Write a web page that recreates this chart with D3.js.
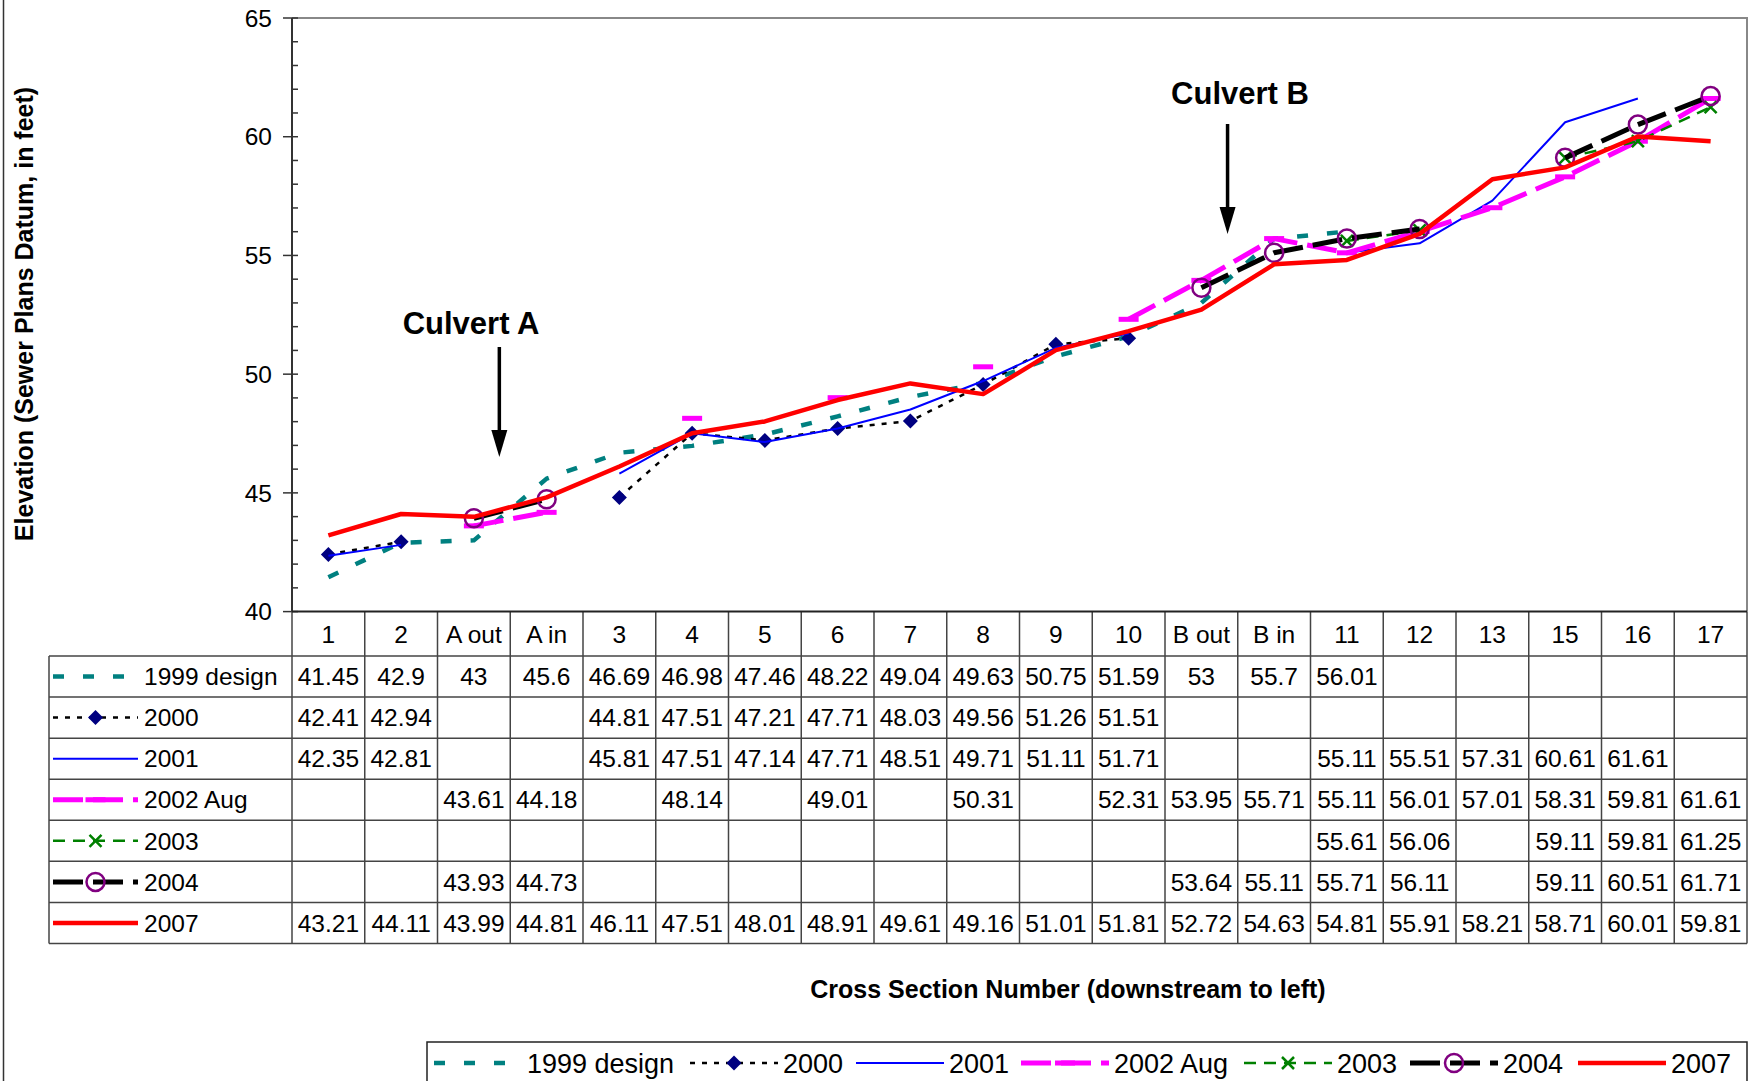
<!DOCTYPE html>
<html><head><meta charset="utf-8">
<script src="https://cdn.jsdelivr.net/npm/d3@7"></script>
<style>html,body{margin:0;padding:0;background:#fff;} svg{display:block;font-family:"Liberation Sans",Arial,sans-serif;}</style>
</head><body><svg id="c" width="1750" height="1081"></svg>
<script>
// ---------- DATA ----------
const categories = ["1","2","A out","A in","3","4","5","6","7","8","9","10","B out","B in","11","12","13","15","16","17"];
const seriesNames = ["1999 design","2000","2001","2002 Aug","2003","2004","2007"];
const design1999 = [41.45,42.9,43,45.6,46.69,46.98,47.46,48.22,49.04,49.63,50.75,51.59,53,55.7,56.01,null,null,null,null,null];
const s2000 = [42.41,42.94,null,null,44.81,47.51,47.21,47.71,48.03,49.56,51.26,51.51,null,null,null,null,null,null,null,null];
const s2001 = [42.35,42.81,null,null,45.81,47.51,47.14,47.71,48.51,49.71,51.11,51.71,null,null,55.11,55.51,57.31,60.61,61.61,null];
const s2002Aug = [null,null,43.61,44.18,null,48.14,null,49.01,null,50.31,null,52.31,53.95,55.71,55.11,56.01,57.01,58.31,59.81,61.61];
const s2003 = [null,null,null,null,null,null,null,null,null,null,null,null,null,null,55.61,56.06,null,59.11,59.81,61.25];
const s2004 = [null,null,43.93,44.73,null,null,null,null,null,null,null,null,53.64,55.11,55.71,56.11,null,59.11,60.51,61.71];
const s2007 = [43.21,44.11,43.99,44.81,46.11,47.51,48.01,48.91,49.61,49.16,51.01,51.81,52.72,54.63,54.81,55.91,58.21,58.71,60.01,59.81];
const yTicks = [40,45,50,55,60,65];
const yTitle = "Elevation (Sewer Plans Datum, in feet)";
const xTitle = "Cross Section Number (downstream to left)";
const annotations = ["Culvert A","Culvert B"];

// ---------- STYLES / LAYOUT ----------
const seriesValues = [design1999,s2000,s2001,s2002Aug,s2003,s2004,s2007];
const styles = [
  {color:"#008080", width:4.5, dash:"11,19", marker:null},
  {color:"#000000", width:2.5, dash:"5,7", marker:"diamond", mcolor:"#000080"},
  {color:"#0000FF", width:2, dash:null, marker:null},
  {color:"#FF00FF", width:5, dash:"30,10", marker:"bar", mcolor:"#FF00FF"},
  {color:"#008000", width:2.5, dash:"12,8", marker:"x", mcolor:"#008000"},
  {color:"#000000", width:5, dash:"30,10", marker:"circle", mcolor:"#800080"},
  {color:"#FF0000", width:4.5, dash:null, marker:null}
];
const P = {left:292, right:1747, top:18, bottom:611.6};
const tableTop = 656, rowH = 41.07, keyLeft = 49;
const FONT = "'Liberation Sans', Arial, sans-serif";

const svg = d3.select("#c");
const x = d3.scaleBand().domain(categories).range([P.left,P.right]).padding(0);
const y = d3.scaleLinear().domain([40,65]).range([P.bottom,P.top]);
const cx = c => x(c) + x.bandwidth()/2;

// left chart border
svg.append("line").attr("x1",3.5).attr("x2",3.5).attr("y1",0).attr("y2",1081)
  .attr("stroke","#333").attr("stroke-width",1.5);

// plot border (top/right grey)
svg.append("path").attr("d",`M${P.left},${P.top}H${P.right}V${P.bottom}`)
  .attr("fill","none").attr("stroke","#888").attr("stroke-width",2);

// y axis ticks
const gy = svg.append("g");
d3.range(40,66,1).forEach(v=>{
  const major = v%5===0;
  gy.append("line").attr("x1", major?283:P.left).attr("x2",298)
    .attr("y1",y(v)).attr("y2",y(v)).attr("stroke","#333").attr("stroke-width",1.5);
});
gy.selectAll("text.tick").data(yTicks).enter().append("text")
  .attr("x",272).attr("y",d=>y(d)+8.7).attr("text-anchor","end")
  .attr("font-size",24.5).attr("font-family",FONT).text(d=>d);
gy.append("line").attr("x1",P.left).attr("x2",P.left).attr("y1",P.top).attr("y2",P.bottom)
  .attr("stroke","#333").attr("stroke-width",2);

// y title
svg.append("text").attr("transform","translate(33,314) rotate(-90)")
  .attr("text-anchor","middle").attr("font-weight","bold").attr("font-size",25)
  .attr("font-family",FONT).text(yTitle);

// ---------- TABLE ----------
const tableBottom = tableTop + rowH*seriesNames.length;
const gt = svg.append("g").attr("stroke","#444").attr("stroke-width",1.5);
for(let i=0;i<=seriesNames.length;i++){
  gt.append("line").attr("x1",keyLeft).attr("x2",P.right)
    .attr("y1",tableTop+i*rowH).attr("y2",tableTop+i*rowH);
}
categories.forEach(c=>{
  gt.append("line").attr("x1",x(c)).attr("x2",x(c)).attr("y1",P.bottom).attr("y2",tableBottom);
});
gt.append("line").attr("x1",P.right).attr("x2",P.right).attr("y1",P.bottom).attr("y2",tableBottom);
gt.append("line").attr("x1",keyLeft).attr("x2",keyLeft).attr("y1",tableTop).attr("y2",tableBottom);

// x axis line
svg.append("line").attr("x1",P.left).attr("x2",P.right).attr("y1",P.bottom).attr("y2",P.bottom)
  .attr("stroke","#222").attr("stroke-width",2);

// header labels
svg.append("g").selectAll("text").data(categories).enter().append("text")
  .attr("x",d=>cx(d)).attr("y",(P.bottom+tableTop)/2+8.7).attr("text-anchor","middle")
  .attr("font-size",24.5).attr("font-family",FONT).text(d=>d);

// cell values
seriesValues.forEach((vals,si)=>{
  const yc = tableTop + rowH*(si+0.5);
  svg.append("g").selectAll("text").data(vals.map((v,i)=>({v,c:categories[i]})).filter(d=>d.v!=null))
    .enter().append("text").attr("x",d=>cx(d.c)).attr("y",yc+8.7).attr("text-anchor","middle")
    .attr("font-size",24.5).attr("font-family",FONT).text(d=>String(d.v));
});

// marker drawing
function drawMarker(g, type, color, px, py){
  if(type==="diamond"){
    g.append("path").attr("d",`M${px},${py-7.5}L${px+7.5},${py}L${px},${py+7.5}L${px-7.5},${py}Z`).attr("fill",color);
  } else if(type==="bar"){
    g.append("rect").attr("x",px-10).attr("y",py-2.5).attr("width",20).attr("height",5).attr("fill",color);
  } else if(type==="x"){
    g.append("path").attr("d",`M${px-6},${py-6}L${px+6},${py+6}M${px-6},${py+6}L${px+6},${py-6}`)
      .attr("stroke",color).attr("stroke-width",2.5).attr("fill","none");
  } else if(type==="circle"){
    g.append("circle").attr("cx",px).attr("cy",py).attr("r",9).attr("fill","none")
      .attr("stroke",color).attr("stroke-width",2.5);
  }
}
function drawKey(g, st, x0, x1, yc){
  g.append("line").attr("x1",x0).attr("x2",x1).attr("y1",yc).attr("y2",yc)
    .attr("stroke",st.color).attr("stroke-width",st.width)
    .attr("stroke-dasharray",st.dash||null);
  if(st.marker) drawMarker(g, st.marker, st.mcolor, (x0+x1)/2, yc);
}

// table key column
seriesNames.forEach((name,si)=>{
  const yc = tableTop + rowH*(si+0.5);
  const g = svg.append("g");
  drawKey(g, styles[si], 53, 138, yc);
  g.append("text").attr("x",144).attr("y",yc+8.7).attr("font-size",24.5)
    .attr("font-family",FONT).text(name);
});

// ---------- SERIES ----------
const line = d3.line().defined(d=>d.v!=null).x(d=>cx(d.c)).y(d=>y(d.v));
seriesValues.forEach((vals,si)=>{
  const st = styles[si];
  const pts = vals.map((v,i)=>({v,c:categories[i]}));
  const g = svg.append("g");
  g.append("path").attr("d",line(pts)).attr("fill","none")
    .attr("stroke",st.color).attr("stroke-width",st.width)
    .attr("stroke-dasharray",st.dash||null).attr("stroke-linejoin","round");
  if(st.marker) pts.filter(d=>d.v!=null).forEach(d=>drawMarker(g, st.marker, st.mcolor, cx(d.c), y(d.v)));
});

// ---------- ANNOTATIONS ----------
function arrow(xp, y0, y1){
  svg.append("line").attr("x1",xp).attr("x2",xp).attr("y1",y0).attr("y2",y1-24)
    .attr("stroke","#000").attr("stroke-width",3.5);
  svg.append("path").attr("d",`M${xp-8},${y1-27}L${xp+8},${y1-27}L${xp},${y1}Z`).attr("fill","#000");
}
const annX = [x("A out")+x.bandwidth()*0.85, x("B out")+x.bandwidth()*0.86];
svg.append("text").attr("x",471).attr("y",334).attr("text-anchor","middle")
  .attr("font-weight","bold").attr("font-size",31).attr("font-family",FONT).text(annotations[0]);
arrow(annX[0], 347, 457);
svg.append("text").attr("x",1240).attr("y",104).attr("text-anchor","middle")
  .attr("font-weight","bold").attr("font-size",31).attr("font-family",FONT).text(annotations[1]);
arrow(annX[1], 124, 234);

// x title
svg.append("text").attr("x",1068).attr("y",998).attr("text-anchor","middle")
  .attr("font-weight","bold").attr("font-size",25).attr("font-family",FONT).text(xTitle);

// ---------- LEGEND ----------
svg.append("rect").attr("x",427).attr("y",1042).attr("width",1320).attr("height",60)
  .attr("fill","none").attr("stroke","#222").attr("stroke-width",1.5);
const legendX = [434,690,856,1021,1244,1410,1578];
seriesNames.forEach((name,si)=>{
  const g = svg.append("g");
  const yc = 1063;
  drawKey(g, styles[si], legendX[si], legendX[si]+88, yc);
  g.append("text").attr("x",legendX[si]+93).attr("y",yc+9.5).attr("font-size",27)
    .attr("font-family",FONT).text(name);
});
</script></body></html>
